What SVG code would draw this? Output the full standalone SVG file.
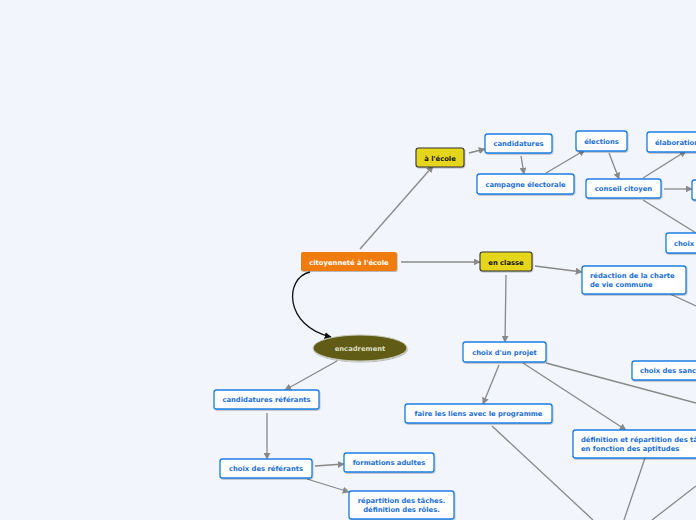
<svg xmlns="http://www.w3.org/2000/svg" width="696" height="520" viewBox="0 0 696 520">
<defs>
<marker id="ar" viewBox="0 0 10 10" refX="9" refY="5" markerWidth="7" markerHeight="7" orient="auto" markerUnits="userSpaceOnUse">
<path d="M0,0 L10,5 L0,10 z" fill="#888"/>
</marker>
<marker id="arb" viewBox="0 0 10 10" refX="9" refY="5" markerWidth="7" markerHeight="7" orient="auto" markerUnits="userSpaceOnUse">
<path d="M0,0 L10,5 L0,10 z" fill="#111"/>
</marker>
<filter id="sh" x="-10%" y="-20%" width="120%" height="150%">
<feDropShadow dx="0.6" dy="1" stdDeviation="0.6" flood-color="#000" flood-opacity="0.25"/>
</filter>
</defs>
<style>
.bg{fill:#f3f5fd}
.c{fill:none;stroke:#888;stroke-width:1.3}
.n{fill:#fff;stroke:#1b7ee2;stroke-width:1.3;filter:url(#sh)}
.y{fill:#e5d61f;stroke:#333;stroke-width:1.1;filter:url(#sh)}
.t{font-family:"DejaVu Sans",Verdana,sans-serif;font-weight:bold;font-size:6.8px;fill:#1a6fd6}
.tk{font-family:"DejaVu Sans",Verdana,sans-serif;font-weight:bold;font-size:6.8px;fill:#111}
.tw{font-family:"DejaVu Sans",Verdana,sans-serif;font-weight:bold;font-size:6.8px;fill:#fff}
.te{font-family:"DejaVu Sans",Verdana,sans-serif;font-weight:bold;font-size:6.8px;fill:#dcdcc0}
.m{text-anchor:middle}
</style>
<rect class="bg" x="0" y="0" width="696" height="520"/>
<g id="connectors">
<path class="c" d="M360,249 L433,166" marker-end="url(#ar)"/>
<path class="c" d="M401,262 L480,262" marker-end="url(#ar)"/>
<path class="c" d="M469,153 L485,149" marker-end="url(#ar)"/>
<path class="c" d="M521,156 L524,174" marker-end="url(#ar)"/>
<path class="c" d="M546,173 L585,150" marker-end="url(#ar)"/>
<path class="c" d="M609,153 L619,179" marker-end="url(#ar)"/>
<path class="c" d="M643,178 L686,151" marker-end="url(#ar)"/>
<path class="c" d="M664,189 L692,189" marker-end="url(#ar)"/>
<path class="c" d="M643,200 L696,233"/>
<path class="c" d="M535,266 L582,272" marker-end="url(#ar)"/>
<path class="c" d="M670,294 L696,306"/>
<path class="c" d="M506,275 L505,342" marker-end="url(#ar)"/>
<path class="c" d="M499,365 L483,404" marker-end="url(#ar)"/>
<path class="c" d="M523,363 L626,430" marker-end="url(#ar)"/>
<path class="c" d="M546,363 L696,403"/>
<path class="c" d="M492,426 L593,520"/>
<path class="c" d="M645,458 L624,520"/>
<path class="c" d="M696,486 L652,520"/>
<path d="M310,272 C284,278 284,326 331,337" fill="none" stroke="#111" stroke-width="1.3" marker-end="url(#arb)"/>
<path class="c" d="M337,361 L285,390" marker-end="url(#ar)"/>
<path class="c" d="M267,413 L267,459" marker-end="url(#ar)"/>
<path class="c" d="M315,466 L344,464" marker-end="url(#ar)"/>
<path class="c" d="M307,479 L349,492" marker-end="url(#ar)"/>
</g>
<g id="root">
<rect x="301" y="252" width="96" height="19" rx="2" fill="#ef7b10" filter="url(#sh)"/>
<text class="tw m" x="349" y="264.5">citoyenneté à l'école</text>
</g>
<g id="a-ecole">
<rect class="y" x="416" y="148" width="48" height="19" rx="2.5"/>
<text class="tk m" x="440" y="160.5">à l'école</text>
</g>
<g id="en-classe">
<rect class="y" x="480" y="252" width="52" height="19" rx="2.5"/>
<text class="tk m" x="506" y="264.5">en classe</text>
</g>
<g id="candidatures">
<rect class="n" x="485" y="134" width="67" height="19" rx="2.5"/>
<text class="t m" x="518.5" y="146">candidatures</text>
</g>
<g id="campagne">
<rect class="n" x="477" y="174" width="97" height="20" rx="2.5"/>
<text class="t m" x="525.5" y="186.5">campagne électorale</text>
</g>
<g id="elections">
<rect class="n" x="576" y="131" width="51" height="20" rx="2.5"/>
<text class="t m" x="601.5" y="143.5">élections</text>
</g>
<g id="conseil">
<rect class="n" x="586" y="179" width="75" height="19" rx="2.5"/>
<text class="t m" x="623.5" y="191">conseil citoyen</text>
</g>
<g id="elaboration">
<rect class="n" x="647" y="132" width="80" height="20" rx="2.5"/>
<text class="t" x="655" y="144.5">élaboration</text>
</g>
<g id="right-node">
<rect class="n" x="692" y="180" width="40" height="20" rx="2.5"/>
</g>
<g id="choix">
<rect class="n" x="666" y="233" width="60" height="20" rx="2.5"/>
<text class="t" x="674" y="245.5">choix</text>
</g>
<g id="redaction">
<rect class="n" x="582" y="266" width="104" height="28" rx="2.5"/>
<text class="t" x="590" y="277.5">rédaction de la charte</text>
<text class="t" x="590" y="286.5">de vie commune</text>
</g>
<g id="sanctions">
<rect class="n" x="632" y="361" width="90" height="19" rx="2.5"/>
<text class="t" x="640" y="373">choix des sanctions</text>
</g>
<g id="projet">
<rect class="n" x="463" y="342" width="83" height="20" rx="2.5"/>
<text class="t m" x="504.5" y="354.5">choix d'un projet</text>
</g>
<g id="liens">
<rect class="n" x="405" y="404" width="147" height="19" rx="2.5"/>
<text class="t m" x="478.5" y="416">faire les liens avec le programme</text>
</g>
<g id="definition">
<rect class="n" x="573" y="430" width="140" height="28" rx="2.5"/>
<text class="t" x="581" y="441.5">définition et répartition des tâches</text>
<text class="t" x="581" y="450.5">en fonction des aptitudes</text>
</g>
<g id="encadrement">
<ellipse cx="360" cy="348" rx="47" ry="13" fill="#615c16" stroke="#c8c8b8" stroke-width="1" filter="url(#sh)"/>
<text class="te m" x="360" y="350.5">encadrement</text>
</g>
<g id="cand-referants">
<rect class="n" x="214" y="390" width="105" height="19" rx="2.5"/>
<text class="t m" x="266.5" y="402">candidatures référants</text>
</g>
<g id="choix-referants">
<rect class="n" x="220" y="459" width="92" height="19" rx="2.5"/>
<text class="t m" x="266" y="471">choix des référants</text>
</g>
<g id="formations">
<rect class="n" x="344" y="453" width="90" height="19" rx="2.5"/>
<text class="t m" x="389" y="465">formations adultes</text>
</g>
<g id="repartition">
<rect class="n" x="349" y="491" width="105" height="28" rx="2.5"/>
<text class="t m" x="401.5" y="502.5">répartition des tâches.</text>
<text class="t m" x="401.5" y="511.5">définition des rôles.</text>
</g>
</svg>
